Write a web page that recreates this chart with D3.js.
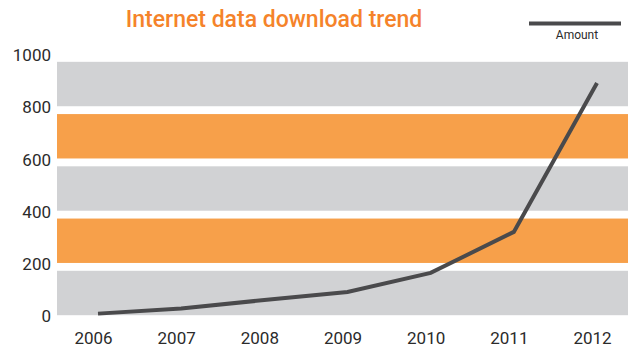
<!DOCTYPE html>
<html><head><meta charset="utf-8">
<script src="https://cdn.jsdelivr.net/npm/d3@7"></script>
<style>body{margin:0;background:#fff;}svg{display:block;font-family:Roboto,"Noto Sans",sans-serif;}</style>
</head><body><svg id="c" width="628" height="350"></svg>
<script>
const years = ["2006","2007","2008","2009","2010","2011","2012"];
const amount = [11, 31, 63, 94, 167, 324, 894];
const yTicks = [0, 200, 400, 600, 800, 1000];
const bandStarts = [0, 200, 400, 600, 800];
const bandColors = ["#d1d2d4", "#f7a04a", "#d1d2d4", "#f7a04a", "#d1d2d4"];

const svg = d3.select("#c");
const y = d3.scaleLinear().domain([0, 1000]).range([316.5, 55.3]);
const x = d3.scalePoint().domain(years).range([98, 597]);

// bands
svg.selectAll("rect.band").data(bandStarts).enter().append("rect")
  .attr("class", "band")
  .attr("x", 57).attr("width", 628 - 57)
  .attr("y", d => y(d + 175))
  .attr("height", d => y(d + 5) - y(d + 175))
  .attr("fill", (d, i) => bandColors[i]);

// y axis
const yAxis = svg.append("g").attr("transform", "translate(51,0)")
  .call(d3.axisLeft(y).tickValues(yTicks).tickFormat(d3.format("d")).tickSize(0).tickPadding(0));
yAxis.select(".domain").remove();
yAxis.selectAll("text").attr("font-size", 17).attr("fill", "#2b2b2b")
  .attr("font-family", "Roboto, sans-serif");

// x axis
const xAxis = svg.append("g").attr("transform", "translate(-5,332)")
  .call(d3.axisBottom(x).tickSize(0).tickPadding(0));
xAxis.select(".domain").remove();
xAxis.selectAll("text").attr("font-size", 17).attr("fill", "#2b2b2b")
  .attr("font-family", "Roboto, sans-serif");

// line
svg.append("path").datum(amount)
  .attr("fill", "none").attr("stroke", "#4a4a4c").attr("stroke-width", 4)
  .attr("d", d3.line().x((d, i) => x(years[i])).y(d => y(d)));

// title
svg.append("text").attr("x", 274).attr("y", 27).attr("text-anchor", "middle")
  .attr("font-size", 23).attr("font-weight", 500).attr("fill", "#f5832a")
  .text("Internet data download trend");

// legend
svg.append("line").attr("x1", 529).attr("x2", 621).attr("y1", 23.5).attr("y2", 23.5)
  .attr("stroke", "#4a4a4c").attr("stroke-width", 4);
svg.append("text").attr("x", 577).attr("y", 39).attr("text-anchor", "middle")
  .attr("font-size", 12).attr("fill", "#2b2b2b").text("Amount");
</script></body></html>
